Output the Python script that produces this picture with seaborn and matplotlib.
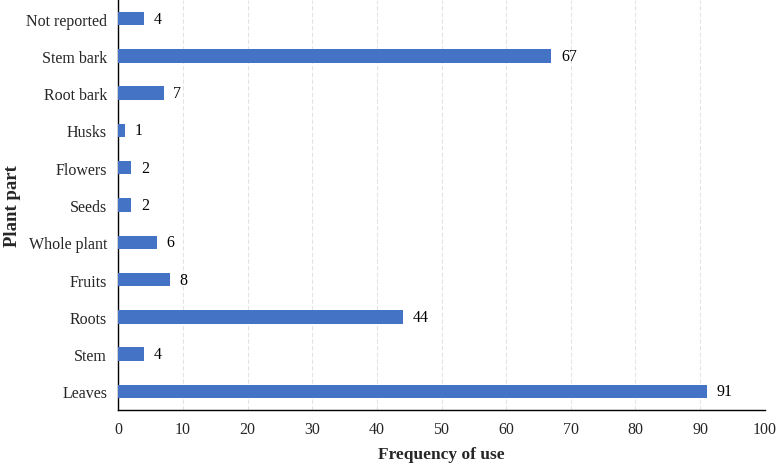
import matplotlib
matplotlib.use("Agg")
import matplotlib.pyplot as plt
import pandas as pd
import seaborn as sns

# Data, top to bottom as shown
parts = ["Not reported", "Stem bark", "Root bark", "Husks", "Flowers", "Seeds",
         "Whole plant", "Fruits", "Roots", "Stem", "Leaves"]
counts = [4, 67, 7, 1, 2, 2, 6, 8, 44, 4, 91]
x_ticks = [0, 10, 20, 30, 40, 50, 60, 70, 80, 90, 100]

df = pd.DataFrame({"Plant part": parts, "Frequency": counts})

sns.set_style("white")
plt.rcParams["font.family"] = ["Liberation Serif", "DejaVu Serif"]

fig = plt.figure(figsize=(7.78, 4.64), dpi=100)
ax = fig.add_axes([0.152, 0.114, 0.831, 0.884])

sns.barplot(data=df, x="Frequency", y="Plant part", order=parts,
            color="#4472C4", saturation=1, width=0.36, linewidth=0,
            ax=ax, zorder=3)

# Value labels next to each bar
for i, v in enumerate(counts):
    ax.text(v + 1.5, i, str(v), va="center", ha="left", fontsize=11.5, color="black")

ax.set_xlim(0, 100)
ax.set_ylim(len(parts) - 0.5, -0.5)
ax.set_xticks(x_ticks)
ax.tick_params(axis="both", length=0, labelsize=11.5)
ax.tick_params(axis="x", pad=8)
ax.tick_params(axis="y", pad=8)
ax.xaxis.grid(True, color="#E3E3E3", linewidth=0.8, linestyle=(0, (4, 2)), zorder=0)
ax.yaxis.grid(False)

for side in ["top", "right"]:
    ax.spines[side].set_visible(False)
for side in ["left", "bottom"]:
    ax.spines[side].set_color("black")
    ax.spines[side].set_linewidth(1.0)

ax.set_xlabel("Frequency of use", fontsize=12.5, fontweight="bold", labelpad=6)
ax.set_ylabel("Plant part", fontsize=13.5, fontweight="bold", labelpad=4)

fig.savefig("out.png", dpi=100)
